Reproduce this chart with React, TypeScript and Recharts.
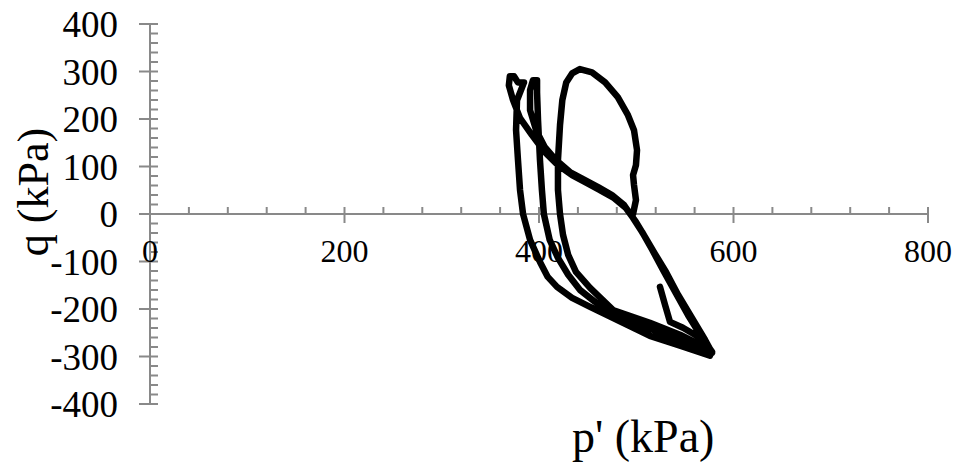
import React from 'react';
import { LineChart, Line, XAxis, YAxis, ReferenceLine, ReferenceDot } from 'recharts';

// Stress path p' (kPa) vs q (kPa), in drawing order
const pValues = [
  496.7, 499.7, 497.7, 496.7, 499.7, 500.8, 497.7, 491.5, 481, 468, 454.5, 442, 434, 428, 424, 421.6, 419.5, 419.5, 421.6, 424.7, 430, 438, 452.5, 476, 514, 545, 571.7, 578,
  565.6, 553, 540, 527.5, 516.5, 506, 496.7, 487.5, 475, 460.8, 447.3, 431.8, 417.5, 406, 397, 390.8, 390.8, 393.8, 398,
  398, 399, 401, 403, 405, 411, 419.5, 430, 442, 457.6, 476, 504, 534.7, 565.6, 578,
  570.7, 557.3, 543, 530.6, 519.3, 509, 499.7, 489.4, 477, 462.7, 449.4, 434, 419.5, 406, 392.8, 380.5, 373.3, 369, 370, 374.3, 378.4, 384.6,
  377.4, 376.4, 378.4, 380.5, 383.6, 390.8, 401, 409, 418.5, 434, 452.5, 486.4, 514, 545, 575.8,
  565.6, 548, 534.7, 529.6, 524.4,
];
const qValues = [
  0, 29.4, 60.9, 82, 103, 134.5, 176.5, 208, 246, 277, 298, 305, 296, 277, 240, 187, 113.5, 50.4, 0, -44, -86, -122, -155.5, -202, -229, -254, -281.6, -290,
  -254, -212, -164, -117.7, -75.7, -37.8, -8.4, 18.9, 39.9, 56.7, 71.5, 88.3, 113.5, 140.8, 176.5, 218.6, 260.6, 281.6, 281.6,
  256, 197.6, 113.5, 50.4, 0, -54.6, -92.5, -128, -159.7, -185, -210, -233, -258.5, -279.5, -292,
  -264.8, -218.6, -170, -122, -84, -48.3, -16.8, 12.6, 33.6, 50.4, 65, 82, 103, 130, 166, 201.8, 239.6, 271, 290, 290, 277, 277,
  239.6, 176.5, 113.5, 50.4, 0, -54.6, -100.9, -132.4, -153.4, -176.5, -195.5, -229, -256.4, -277.4, -298.4,
  -260.6, -239.6, -227, -191.3, -153.4,
];

const xMajorTicks = [0, 200, 400, 600, 800];
const xMinorTicks = [40, 80, 120, 160, 240, 280, 320, 360, 440, 480, 520, 560, 640, 680, 720, 760];
const yMajorTicks = [-400, -300, -200, -100, 0, 100, 200, 300, 400];
const yMinorTicks = [
  -380, -360, -340, -320, -280, -260, -240, -220, -180, -160, -140, -120, -80, -60, -40, -20,
  20, 40, 60, 80, 120, 140, 160, 180, 220, 240, 260, 280, 320, 340, 360, 380,
];

const xTitle = "p' (kPa)";
const yTitle = 'q (kPa)';

const data = pValues.map((p, i) => ({ p, q: qValues[i] }));

const AXIS = '#898989';
const FONT = '"Liberation Serif", "Times New Roman", serif';

const xMajorShape = (label: number) => (props: any) => (
  <g>
    <line x1={props.cx} x2={props.cx} y1={props.cy - 7} y2={props.cy + 9} stroke={AXIS} strokeWidth={2} />
    <text x={props.cx} y={props.cy + 48} textAnchor="middle" fontSize={32} fontFamily={FONT} fill="#000">
      {label}
    </text>
  </g>
);
const xMinorShape = (props: any) => (
  <line x1={props.cx} x2={props.cx} y1={props.cy - 7} y2={props.cy} stroke={AXIS} strokeWidth={2} />
);
const yMajorShape = (props: any) => (
  <line x1={props.cx - 11} x2={props.cx + 8} y1={props.cy} y2={props.cy} stroke={AXIS} strokeWidth={2} />
);
const yMinorShape = (props: any) => (
  <line x1={props.cx} x2={props.cx + 8} y1={props.cy} y2={props.cy} stroke={AXIS} strokeWidth={2} />
);

export default function App() {
  return (
    <div style={{ position: 'absolute', left: 0, top: 0, width: 955, height: 470, background: '#fff' }}>
      <LineChart width={955} height={470} data={data} margin={{ top: 24, right: 27, bottom: 66, left: 0 }}>
        <XAxis dataKey="p" type="number" domain={[0, 800]} hide allowDataOverflow />
        <YAxis
          type="number"
          domain={[-400, 400]}
          ticks={yMajorTicks}
          interval={0}
          width={150}
          tickLine={false}
          tickSize={11}
          tickMargin={21}
          axisLine={{ stroke: AXIS, strokeWidth: 2 }}
          tick={{ fontSize: 37, fill: '#000', fontFamily: FONT }}
          allowDataOverflow
        />
        <ReferenceLine y={0} stroke={AXIS} strokeWidth={2} ifOverflow="visible" />
        {yMinorTicks.map((v) => (
          <ReferenceDot key={'ym' + v} x={0} y={v} r={1} ifOverflow="visible" shape={yMinorShape} />
        ))}
        {yMajorTicks.map((v) => (
          <ReferenceDot key={'yM' + v} x={0} y={v} r={1} ifOverflow="visible" shape={yMajorShape} />
        ))}
        {xMinorTicks.map((v) => (
          <ReferenceDot key={'xm' + v} x={v} y={0} r={1} ifOverflow="visible" shape={xMinorShape} />
        ))}
        {xMajorTicks.map((v) => (
          <ReferenceDot key={'xM' + v} x={v} y={0} r={1} ifOverflow="visible" shape={xMajorShape(v)} />
        ))}
        <Line
          dataKey="q"
          type="linear"
          stroke="#000"
          strokeWidth={6.5}
          strokeLinejoin="round"
          strokeLinecap="round"
          dot={false}
          isAnimationActive={false}
        />
      </LineChart>
      <div
        style={{
          position: 'absolute',
          left: 572,
          top: 412,
          fontFamily: FONT,
          fontSize: 46,
          lineHeight: '50px',
          whiteSpace: 'nowrap',
          color: '#000',
        }}
      >
        {xTitle}
      </div>
      <div
        style={{
          position: 'absolute',
          left: 34,
          top: 192,
          fontFamily: FONT,
          fontSize: 44,
          lineHeight: '44px',
          whiteSpace: 'nowrap',
          color: '#000',
          transform: 'translate(-50%, -50%) rotate(-90deg)',
        }}
      >
        {yTitle}
      </div>
    </div>
  );
}
